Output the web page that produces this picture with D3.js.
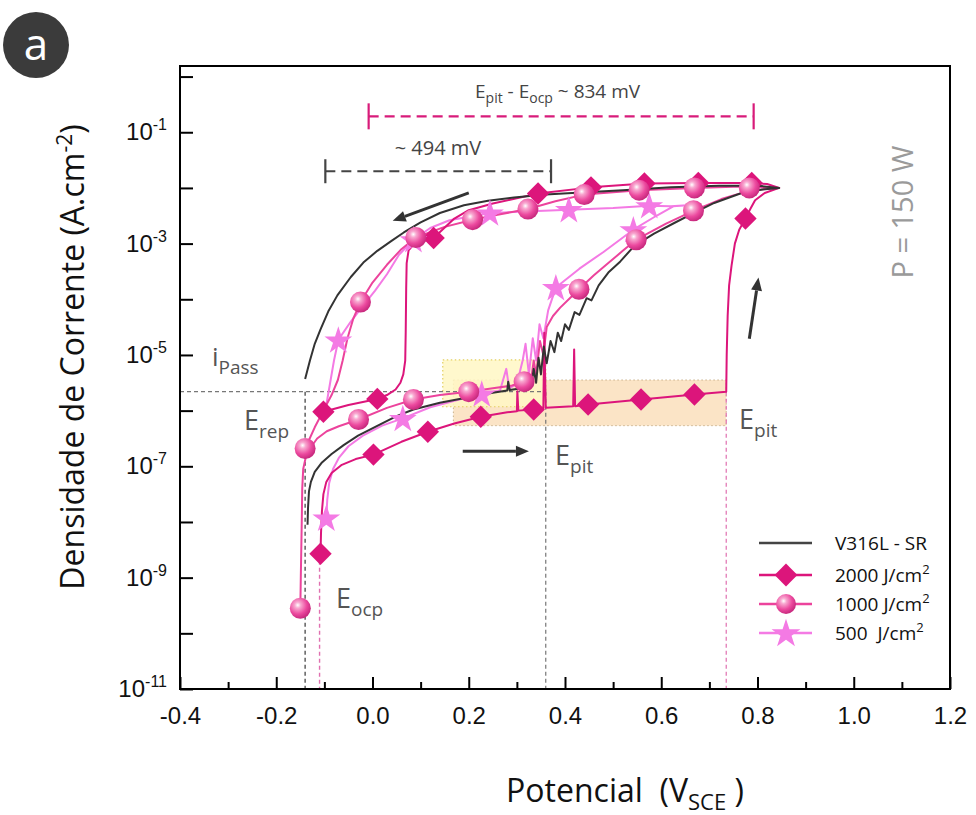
<!DOCTYPE html>
<meta charset="utf-8">
<script src="https://d3js.org/d3.v7.min.js"></script>
<style>
body { margin: 0; background: #fff; }
text { font-family: "Open Sans", sans-serif; }
.tick-label { font-family: "Liberation Sans", Arial, sans-serif; font-size: 24px; fill: #111; }
</style>
<svg id="chart" width="976" height="815"></svg>
<script>

// ---- data (potential in V_SCE, current density as log10 A/cm2) ----
var xTicks = [-0.4, -0.2, 0.0, 0.2, 0.4, 0.6, 0.8, 1.0, 1.2];
var xMinor = [-0.3, -0.1, 0.1, 0.3, 0.5, 0.7, 0.9, 1.1];
var yDecades = [-11, -10, -9, -8, -7, -6, -5, -4, -3, -2, -1, 0];
var yLabelled = [-11, -9, -7, -5, -3, -1];

var seriesNames = ["V316L - SR", "2000 J/cm", "1000 J/cm", "500\u00a0 J/cm"];

var v316Curve = [
  [-0.135,-8.05],[-0.134,-7.75],[-0.132,-7.45],[-0.128,-7.28],[-0.12,-7.1],[-0.105,-6.93],
  [-0.085,-6.78],[-0.06,-6.62],[-0.03,-6.45],[0.015,-6.25],[0.05,-6.1],[0.085,-5.98],[0.14,-5.86],
  [0.2,-5.76],[0.25,-5.68],[0.28,-5.64],
  [0.282,-5.48],[0.285,-5.63],[0.31,-5.6],[0.33,-5.55],[0.335,-5.25],[0.34,-5.5],[0.345,-5.05],
  [0.35,-5.35],[0.356,-4.85],[0.362,-5.15],[0.37,-4.75],[0.378,-4.95],[0.385,-4.6],[0.392,-4.75],
  [0.40,-4.45],[0.408,-4.55],[0.42,-4.23],[0.43,-4.28],[0.445,-3.98],[0.455,-4.02],[0.47,-3.75],
  [0.49,-3.52],[0.515,-3.32],[0.544,-3.04],[0.585,-2.82],[0.627,-2.63],[0.67,-2.44],[0.71,-2.27],
  [0.767,-2.09],[0.81,-2.03],[0.845,-2.0],
  [0.80,-1.96],[0.72,-1.96],[0.62,-1.99],[0.52,-2.04],[0.433,-2.08],[0.36,-2.12],[0.294,-2.17],
  [0.24,-2.23],[0.19,-2.31],[0.14,-2.45],[0.10,-2.62],[0.065,-2.8],[0.038,-2.96],[0.01,-3.13],
  [-0.019,-3.34],[-0.045,-3.6],[-0.073,-3.93],[-0.092,-4.22],[-0.108,-4.54],[-0.12,-4.8],
  [-0.13,-5.1],[-0.14,-5.43]
];

var j2000Curve = [
  [-0.108,-8.57],[-0.107,-8.2],[-0.105,-7.8],[-0.102,-7.5],[-0.096,-7.28],[-0.085,-7.12],
  [-0.065,-6.98],[-0.035,-6.87],[0.002,-6.79],[0.06,-6.56],[0.115,-6.38],[0.17,-6.23],[0.225,-6.11],
  [0.28,-6.03],[0.30,-6.01],[0.301,-5.65],[0.303,-6.0],[0.335,-5.98],[0.355,-5.96],[0.357,-4.6],
  [0.36,-5.95],[0.417,-5.92],[0.419,-4.9],[0.421,-5.92],[0.448,-5.89],[0.558,-5.8],[0.669,-5.71],
  [0.735,-5.66],[0.736,-5.0],[0.738,-4.3],[0.741,-3.75],[0.746,-3.4],[0.753,-3.0],[0.762,-2.75],
  [0.775,-2.55],[0.785,-2.38],[0.795,-2.22],[0.815,-2.09],[0.845,-2.0],
  [0.82,-1.93],[0.788,-1.91],[0.677,-1.91],[0.565,-1.92],[0.454,-1.99],[0.344,-2.1],[0.25,-2.28],
  [0.2,-2.4],[0.17,-2.55],[0.127,-2.9],[0.1,-2.97],[0.085,-3.02],[0.075,-3.12],[0.071,-3.35],
  [0.07,-3.8],[0.069,-4.6],[0.068,-5.1],[0.064,-5.35],[0.058,-5.5],[0.048,-5.62],[0.03,-5.72],
  [0.01,-5.79],[-0.05,-5.9],[-0.102,-6.02]
];

var j1000Curve = [
  [-0.15,-9.55],[-0.149,-9.0],[-0.147,-8.0],[-0.146,-7.4],[-0.144,-7.05],[-0.139,-6.85],
  [-0.13,-6.68],[-0.115,-6.5],[-0.095,-6.37],[-0.07,-6.28],[-0.029,-6.16],[0.03,-5.95],[0.085,-5.8],
  [0.14,-5.72],[0.2,-5.66],[0.25,-5.6],[0.29,-5.55],[0.315,-5.48],[0.33,-5.42],[0.335,-5.1],
  [0.34,-5.35],[0.348,-4.75],[0.355,-5.0],[0.362,-4.5],[0.375,-4.3],[0.39,-4.15],[0.41,-3.98],
  [0.429,-3.82],[0.46,-3.57],[0.49,-3.35],[0.52,-3.13],[0.548,-2.93],[0.58,-2.78],[0.61,-2.64],
  [0.64,-2.52],[0.667,-2.41],[0.7,-2.29],[0.725,-2.2],[0.755,-2.12],[0.783,-2.06],[0.815,-2.02],
  [0.845,-2.0],
  [0.80,-1.98],[0.75,-1.98],[0.669,-2.0],[0.554,-2.04],[0.44,-2.12],[0.38,-2.24],[0.323,-2.38],
  [0.26,-2.48],[0.208,-2.57],[0.15,-2.7],[0.09,-2.89],[0.06,-3.1],[0.03,-3.38],[0.0,-3.7],
  [-0.025,-4.05],[-0.04,-4.35],[-0.052,-4.7],[-0.062,-5.1],[-0.072,-5.45],[-0.085,-5.72],
  [-0.102,-6.0],[-0.12,-6.3],[-0.14,-6.68]
];

var j500Curve = [
  [-0.096,-7.93],[-0.094,-7.6],[-0.09,-7.3],[-0.082,-7.05],[-0.07,-6.85],[-0.05,-6.64],
  [-0.02,-6.45],[0.02,-6.27],[0.063,-6.14],[0.12,-5.94],[0.18,-5.8],[0.227,-5.7],[0.265,-5.64],
  [0.278,-5.25],[0.284,-5.6],[0.30,-5.52],[0.312,-5.1],[0.318,-4.8],[0.325,-5.35],[0.333,-4.7],
  [0.34,-5.1],[0.347,-4.45],[0.355,-4.7],[0.365,-4.2],[0.381,-3.79],[0.43,-3.45],[0.48,-3.15],
  [0.542,-2.75],[0.59,-2.5],[0.625,-2.33],[0.67,-2.3],
  [0.62,-2.33],[0.575,-2.32],[0.50,-2.36],[0.408,-2.39],[0.33,-2.42],[0.244,-2.45],[0.16,-2.58],
  [0.12,-2.72],[0.085,-2.93],[0.055,-3.2],[0.03,-3.55],[0.005,-3.85],[-0.02,-4.12],[-0.045,-4.4],
  [-0.071,-4.73],[-0.08,-5.1],[-0.088,-5.5],[-0.095,-5.85],[-0.1,-6.1]
];

var j2000Marks = [
  [-0.108,-8.57],[0.002,-6.79],[0.115,-6.38],[0.225,-6.11],[0.335,-5.98],[0.448,-5.89],[0.558,-5.8],
  [0.669,-5.71],[0.775,-2.55],[0.788,-1.91],[0.677,-1.91],[0.565,-1.92],[0.454,-1.99],[0.344,-2.1],
  [0.127,-2.9],[0.01,-5.79],[-0.102,-6.02]
];
var j1000Marks = [
  [-0.15,-9.55],[-0.14,-6.68],[-0.029,-6.16],[0.085,-5.8],[0.2,-5.66],[0.315,-5.48],[0.429,-3.82],
  [0.548,-2.93],[0.667,-2.41],[0.783,-2.0],[0.669,-2.0],[0.554,-2.04],[0.44,-2.12],[0.323,-2.38],
  [0.208,-2.57],[0.09,-2.89],[-0.025,-4.05]
];
var j500Marks = [
  [-0.096,-7.93],[0.063,-6.14],[0.227,-5.7],[0.381,-3.79],[0.542,-2.75],[0.575,-2.32],
  [0.408,-2.39],[0.244,-2.45],[0.085,-2.93],[-0.071,-4.73]
];

// guide values
var iPass = -5.66;
var eOcp = [-0.14, -0.11], eOcpTop = [iPass, -8.57];
var ePit = [0.36, 0.735], ePitTop = [iPass, -5.66];

// ---- layout ----
var svg = d3.select("#chart");
var plotL = 180, plotR = 950, plotT = 66, plotB = 689;

var x = d3.scaleLinear().domain([-0.4, 1.2]).range([plotL, plotR]);
var y = d3.scaleLog().domain([1e-11, Math.pow(10, 0.19)]).range([plotB, plotT]);
function Y(p) { return y(Math.pow(10, p)); }

var cBlack = "#333", c2000 = "#dc157b", c1000 = "#ec439c", c500 = "#f47ae4";

var defs = svg.append("defs");
var grad = defs.append("radialGradient").attr("id", "ball")
  .attr("cx", "38%").attr("cy", "35%").attr("r", "65%");
grad.append("stop").attr("offset", "0%").attr("stop-color", "#ffffff");
grad.append("stop").attr("offset", "22%").attr("stop-color", "#f8a8d0");
grad.append("stop").attr("offset", "65%").attr("stop-color", "#ec4a9f");
grad.append("stop").attr("offset", "100%").attr("stop-color", "#c92a7f");

// badge
svg.append("circle").attr("cx", 36).attr("cy", 45).attr("r", 33).attr("fill", "#3b3b3b");
svg.append("text").attr("x", 36).attr("y", 60).attr("text-anchor", "middle")
  .attr("fill", "#fff").style("font-size", "44px").text("a");

// shaded regions
svg.append("rect").attr("x", x(0.168)).attr("y", Y(-5.45))
  .attr("width", x(0.735) - x(0.168)).attr("height", Y(-6.27) - Y(-5.45))
  .attr("fill", "#fbe4c6").attr("stroke", "#c9b08a").attr("stroke-width", 1).attr("stroke-dasharray", "1.5,2.5");
svg.append("rect").attr("x", x(0.146)).attr("y", Y(-5.09))
  .attr("width", x(0.36) - x(0.146)).attr("height", Y(-5.93) - Y(-5.09))
  .attr("fill", "#fff7c4").attr("fill-opacity", 0.85)
  .attr("stroke", "#e3cf60").attr("stroke-width", 1.2).attr("stroke-dasharray", "1.5,2.5");

// dashed guides
svg.append("line").attr("x1", plotL).attr("x2", x(ePit[0])).attr("y1", Y(iPass)).attr("y2", Y(iPass))
  .attr("stroke", "#777").attr("stroke-width", 1.3).attr("stroke-dasharray", "4,3");
var guideCol = ["#555", "#e070b0"];
[0, 1].forEach(function(k) {
  svg.append("line").attr("x1", x(eOcp[k])).attr("x2", x(eOcp[k])).attr("y1", Y(eOcpTop[k])).attr("y2", plotB)
    .attr("stroke", guideCol[k]).attr("stroke-width", 1.4).attr("stroke-dasharray", "4,3");
  svg.append("line").attr("x1", x(ePit[k])).attr("x2", x(ePit[k])).attr("y1", Y(ePitTop[k])).attr("y2", plotB)
    .attr("stroke", k ? "#e070b0" : "#777").attr("stroke-width", 1.2).attr("stroke-dasharray", "4,3");
});

// curves
var line = d3.line().x(function(d){ return x(d[0]); }).y(function(d){ return Y(d[1]); });

[[j500Curve, c500], [j1000Curve, c1000], [j2000Curve, c2000], [v316Curve, cBlack]].forEach(function(s) {
  svg.append("path").attr("d", line(s[0])).attr("fill", "none")
    .attr("stroke", s[1]).attr("stroke-width", 2).attr("stroke-linejoin", "round");
});

// markers
function drawDiamond(g, px, py, s) {
  g.append("path").attr("d", d3.symbol().type(d3.symbolSquare).size(s)())
    .attr("transform", "translate(" + px + "," + py + ") rotate(45)").attr("fill", c2000);
}
function drawStar(g, px, py, s) {
  g.append("path").attr("d", d3.symbol().type(d3.symbolStar).size(s)())
    .attr("transform", "translate(" + px + "," + (py + 1) + ")").attr("fill", c500);
}
function drawBall(g, px, py, r) {
  g.append("circle").attr("cx", px).attr("cy", py).attr("r", r).attr("fill", "url(#ball)");
}

var marks = svg.append("g");
j2000Marks.forEach(function(d){ drawDiamond(marks, x(d[0]), Y(d[1]), 250); });
j500Marks.forEach(function(d){ drawStar(marks, x(d[0]), Y(d[1]), 240); });
j1000Marks.forEach(function(d){ drawBall(marks, x(d[0]), Y(d[1]), 10.5); });

// arrows
function arrow(x1, y1, x2, y2) {
  var ang = Math.atan2(y2 - y1, x2 - x1), L = 13, W = 5.5;
  var bx = x2 - L * Math.cos(ang), by = y2 - L * Math.sin(ang);
  svg.append("line").attr("x1", x1).attr("y1", y1).attr("x2", bx).attr("y2", by)
    .attr("stroke", "#333").attr("stroke-width", 3);
  var px = -Math.sin(ang) * W, py = Math.cos(ang) * W;
  svg.append("path").attr("d", "M" + x2 + "," + y2 + "L" + (bx + px) + "," + (by + py) + "L" + (bx - px) + "," + (by - py) + "Z")
    .attr("fill", "#333");
}
arrow(x(0.2), Y(-2.09), x(0.042), Y(-2.59));
arrow(x(0.1875), Y(-6.73), x(0.325), Y(-6.73));
arrow(x(0.783), Y(-4.71), x(0.802), Y(-3.61));

// brackets
function bracket(e0, e1, p, col, cap, dash) {
  var g = svg.append("g").attr("stroke", col).attr("stroke-width", 2.2);
  g.append("line").attr("x1", x(e0)).attr("x2", x(e1)).attr("y1", Y(p)).attr("y2", Y(p)).attr("stroke-dasharray", dash);
  g.append("line").attr("x1", x(e0)).attr("x2", x(e0)).attr("y1", Y(p) - cap).attr("y2", Y(p) + cap);
  g.append("line").attr("x1", x(e1)).attr("x2", x(e1)).attr("y1", Y(p) - cap).attr("y2", Y(p) + cap);
}
bracket(-0.008, 0.792, -0.714, "#d81b7a", 13, "10,6");
bracket(-0.098, 0.371, -1.70, "#444", 12, "10,6");

// rich text helper: parts = [text, size, shift]
function rich(g, px, py, parts, col, anchor) {
  var t = g.append("text").attr("x", px).attr("y", py).attr("fill", col || "#555")
    .attr("text-anchor", anchor || "start");
  var prev = 0;
  parts.forEach(function(p) {
    t.append("tspan").style("font-size", p[1] + "px").attr("dy", p[2] - prev).text(p[0]);
    prev = p[2];
  });
  return t;
}

rich(svg, 438, 155, [["~ 494 mV", 20, 0]], "#444", "middle");
rich(svg, 475, 98, [["E", 19, 0], ["pit", 14, 5], [" - E", 19, 0], ["ocp", 14, 5], [" ~ 834 mV", 19, 0]], "#444");

rich(svg, 212, 366, [["i", 26, 0], ["Pass", 19, 8]]);
rich(svg, 244, 430, [["E", 27, 0], ["rep", 19, 8]]);
rich(svg, 555, 465, [["E", 27, 0], ["pit", 19, 8]]);
rich(svg, 739, 429, [["E", 27, 0], ["pit", 19, 8]]);
rich(svg, 336, 608, [["E", 27, 0], ["ocp", 19, 8]]);

svg.append("text").attr("transform", "translate(913,212) rotate(-90)").attr("text-anchor", "middle")
  .attr("fill", "#9a9a9a").style("font-size", "29px").text("P = 150 W");

// legend
var legY = [543, 575, 604, 633];
var leg = svg.append("g");
seriesNames.forEach(function(name, i) {
  var col = [cBlack, c2000, c1000, c500][i];
  leg.append("line").attr("x1", 759).attr("x2", 812).attr("y1", legY[i]).attr("y2", legY[i])
    .attr("stroke", i === 0 ? "#444" : col).attr("stroke-width", 2.5);
  if (i === 1) drawDiamond(leg, 786, legY[i], 260);
  if (i === 2) drawBall(leg, 786, legY[i], 10);
  if (i === 3) drawStar(leg, 786, legY[i], 260);
  var parts = [[name, 19, 0]];
  if (i > 0) parts.push(["2", 13, -8]);
  rich(leg, 835, legY[i] + 7, parts, "#111");
});

// axes: ticks pointing inward
var fmtX = function(d) { return d3.format(".1f")(d).replace("\u2212", "-"); };
var xAxis = svg.append("g").attr("transform", "translate(0," + plotB + ")")
  .call(d3.axisBottom(x).tickValues(xTicks).tickSizeInner(-12).tickSizeOuter(0).tickPadding(18)
    .tickFormat(fmtX));
xAxis.selectAll("text").attr("class", "tick-label");
xAxis.selectAll("line").attr("stroke", "#000").attr("stroke-width", 2);
xAxis.select(".domain").remove();
svg.append("g").attr("transform", "translate(0," + plotB + ")")
  .call(d3.axisBottom(x).tickValues(xMinor).tickSizeInner(-7).tickSizeOuter(0).tickFormat(""))
  .call(function(g){ g.select(".domain").remove(); g.selectAll("line").attr("stroke", "#000").attr("stroke-width", 2); });

var yAxis = svg.append("g").attr("transform", "translate(" + plotL + ",0)")
  .call(d3.axisLeft(y).tickValues(yDecades.map(function(p){ return Math.pow(10, p); }))
    .tickSizeInner(-13).tickSizeOuter(0).tickFormat(""));
yAxis.select(".domain").remove();
yAxis.selectAll("line").attr("stroke", "#000").attr("stroke-width", 2);

yLabelled.forEach(function(p) {
  var t = svg.append("text").attr("class", "tick-label").attr("x", 167).attr("y", Y(p) + 8)
    .attr("text-anchor", "end");
  t.append("tspan").text("10");
  t.append("tspan").attr("dy", -10).style("font-size", "16px").text(String(p));
});

// frame
svg.append("rect").attr("x", plotL).attr("y", plotT).attr("width", plotR - plotL).attr("height", plotB - plotT)
  .attr("fill", "none").attr("stroke", "#000").attr("stroke-width", 2);

// axis titles
rich(svg, 625, 802, [["Potencial\u00a0 (V", 32, 0], ["SCE", 22, 8], ["\u00a0)", 32, 0]], "#111", "middle");
var yt = svg.append("text").attr("transform", "translate(84,357) rotate(-90)").attr("text-anchor", "middle")
  .attr("fill", "#111").style("font-size", "32px");
yt.append("tspan").text("Densidade de Corrente (A.cm");
yt.append("tspan").attr("dy", -12).style("font-size", "21px").text("-2");
yt.append("tspan").attr("dy", 12).text(")");

</script>
